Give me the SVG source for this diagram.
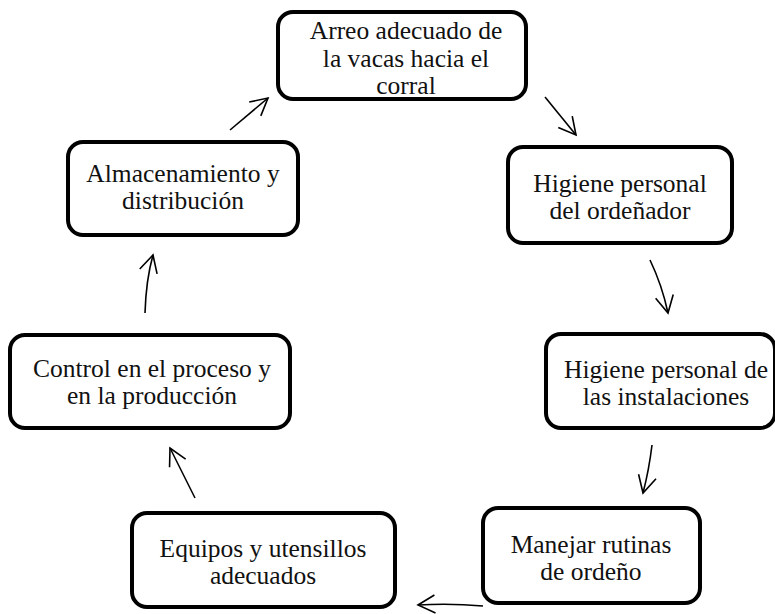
<svg xmlns="http://www.w3.org/2000/svg" width="775" height="614" viewBox="0 0 775 614">
<defs>
<style>
.box{fill:#fff;stroke:#000;stroke-width:4}
.t{font-family:'Liberation Serif',serif;font-size:25.5px;fill:#111;text-anchor:middle}
.c{fill:none;stroke:#000;stroke-width:1.6;marker-end:url(#ah)}
</style>
<marker id="ah" markerUnits="userSpaceOnUse" markerWidth="40" markerHeight="40" viewBox="-20 -20 40 40" refX="0" refY="0" orient="auto">
<path d="M-17,-9 L0,0 L-17,9" fill="none" stroke="#000" stroke-width="1.6"/>
</marker>
</defs>
<rect width="775" height="614" fill="#fff"/>
<g id="connectors">
<path class="c" d="M545,97 L576,135"/>
<path class="c" d="M650,260 Q662,285 668,313"/>
<path class="c" d="M652,445 Q649,470 643,493"/>
<path class="c" d="M483,606 Q450,603 418,605"/>
<path class="c" d="M195,498 L170,448"/>
<path class="c" d="M145,313 Q146,280 153,255"/>
<path class="c" d="M230,130 L268,98"/>
</g>
<g id="n1">
<rect class="box" x="278" y="12" width="248" height="87" rx="15"/>
<text class="t" x="406" y="39">Arreo adecuado de</text>
<text class="t" x="406" y="67">la vacas hacia el</text>
<text class="t" x="406" y="94">corral</text>
</g>
<g id="n2">
<rect class="box" x="508" y="147" width="224" height="96" rx="15"/>
<text class="t" x="620" y="192">Higiene personal</text>
<text class="t" x="620" y="219">del ordeñador</text>
</g>
<g id="n3">
<rect class="box" x="546" y="334" width="229" height="94" rx="15"/>
<text class="t" x="666" y="378">Higiene personal de</text>
<text class="t" x="666" y="405">las instalaciones</text>
</g>
<g id="n4">
<rect class="box" x="483" y="508" width="217" height="95" rx="15"/>
<text class="t" x="591" y="553">Manejar rutinas</text>
<text class="t" x="591" y="580">de ordeño</text>
</g>
<g id="n5">
<rect class="box" x="132" y="513" width="263" height="94" rx="15"/>
<text class="t" x="263" y="557">Equipos y utensillos</text>
<text class="t" x="263" y="584">adecuados</text>
</g>
<g id="n6">
<rect class="box" x="10" y="335" width="280" height="93" rx="15"/>
<text class="t" x="152" y="377">Control en el proceso y</text>
<text class="t" x="152" y="404">en la producción</text>
</g>
<g id="n7">
<rect class="box" x="68" y="142" width="230" height="93" rx="15"/>
<text class="t" x="183" y="182">Almacenamiento y</text>
<text class="t" x="183" y="209">distribución</text>
</g>
</svg>
